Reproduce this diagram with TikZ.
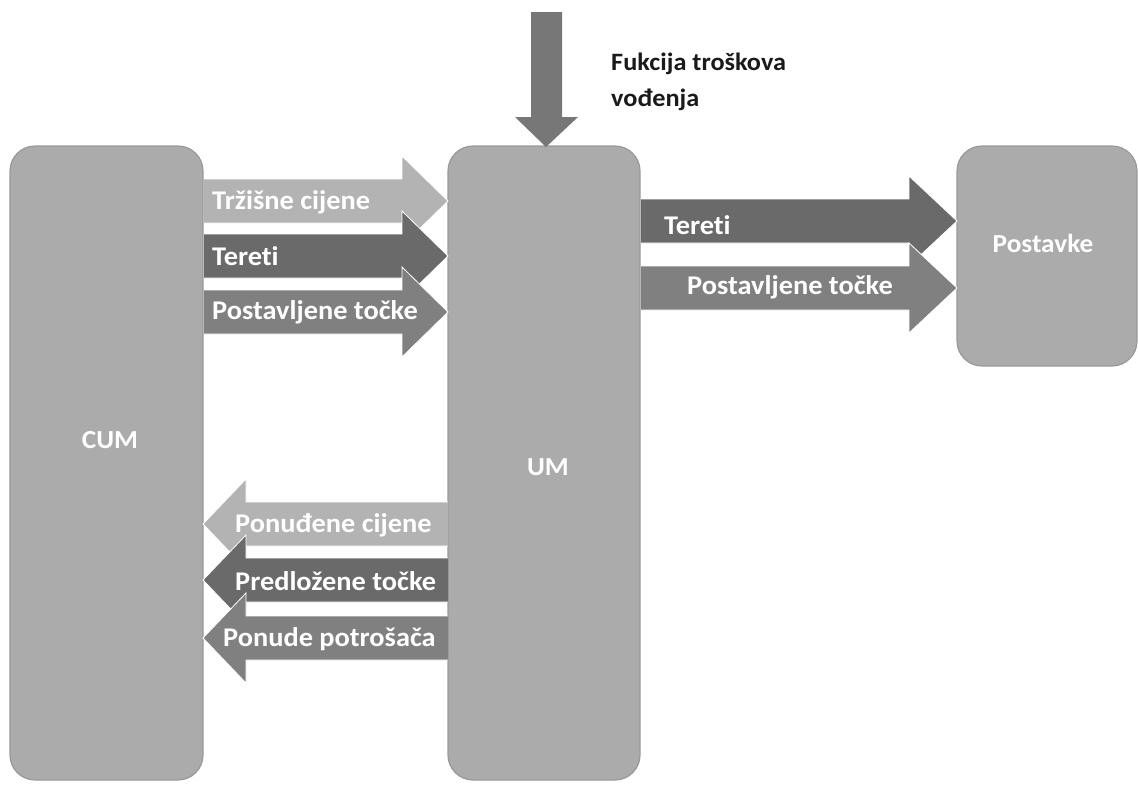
\documentclass[tikz,border=0pt]{standalone}
\usepackage{fontspec}
\setmainfont{Carlito}[FakeStretch=1.05,Ligatures=NoCommon]
\begin{document}
\begin{tikzpicture}[x=1pt,y=-1pt,
  box/.style={draw=boxedge,fill=boxgray,line width=1.2pt,rounded corners=25pt},
  boxlabel/.style={text=white,font=\bfseries\fontsize{26}{30}\selectfont},
  arrlabel/.style={text=white,font=\bfseries\fontsize{27}{30}\selectfont,anchor=west,inner sep=0pt}]
\definecolor{boxgray}{HTML}{ABABAB}
\definecolor{boxedge}{HTML}{999999}
\definecolor{alight}{HTML}{B3B3B3}
\definecolor{adark}{HTML}{6A6A6A}
\definecolor{amid}{HTML}{808080}
\definecolor{adown}{HTML}{777777}
\definecolor{txtdark}{HTML}{1A1A1A}
\useasboundingbox (0,0) rectangle (1138,785);
% block arrow: x start, head base, tip, y centre, colour
\newcommand\blockArrow[5]{\fill[#5] (#1,#4-22) -- (#2,#4-22) -- (#2,#4-45) -- (#3,#4) -- (#2,#4+45) -- (#2,#4+22) -- (#1,#4+22) -- cycle;
  \draw[white,line width=0.8pt] (#1,#4-22) -- (#2,#4-22) -- (#2,#4-45) -- (#3,#4) -- (#2,#4+45) -- (#2,#4+22) -- (#1,#4+22);}
% boxes
\draw[box] (10,146) rectangle (203,780);
\draw[box] (448,146) rectangle (640,780);
\draw[box] (957,146) rectangle (1137,366);
\node[boxlabel] (cum) at (110,440) {CUM};
\node[boxlabel] (um) at (548,467) {UM};
\node[boxlabel] (post) at (1043,243) {Postavke};
% down arrow
\fill[adown] (531,12) -- (562,12) -- (562,117) -- (578,117) -- (546,147) -- (515,117) -- (531,117) -- cycle;
\node[anchor=west,inner sep=0pt,text=txtdark,font=\bfseries\fontsize{25}{36}\selectfont,align=left] (fk) at (611,82) {Fukcija troškova\\vođenja};
% CUM -> UM
\blockArrow{204}{402}{448}{201}{alight}
\blockArrow{204}{402}{448}{256}{adark}
\blockArrow{204}{402}{448}{312}{amid}
\node[arrlabel] (t1) at (212,202) {Tržišne cijene};
\node[arrlabel] (t2) at (212,256) {Tereti};
\node[arrlabel] (t3) at (212,312) {Postavljene točke};
% UM -> CUM
\blockArrow{448}{246}{203}{524}{alight}
\blockArrow{448}{246}{203}{580}{adark}
\blockArrow{448}{246}{203}{638}{amid}
\node[arrlabel] (t4) at (235,525) {Ponuđene cijene};
\node[arrlabel] (t5) at (235,581) {Predložene točke};
\node[arrlabel] (t6) at (223,639) {Ponude potrošača};
% UM -> Postavke
\blockArrow{641}{909}{957}{221}{adark}
\blockArrow{641}{909}{957}{288}{amid}
\node[arrlabel] (t7) at (664,225) {Tereti};
\node[arrlabel] (t8) at (687,287) {Postavljene točke};
\end{tikzpicture}
\end{document}
